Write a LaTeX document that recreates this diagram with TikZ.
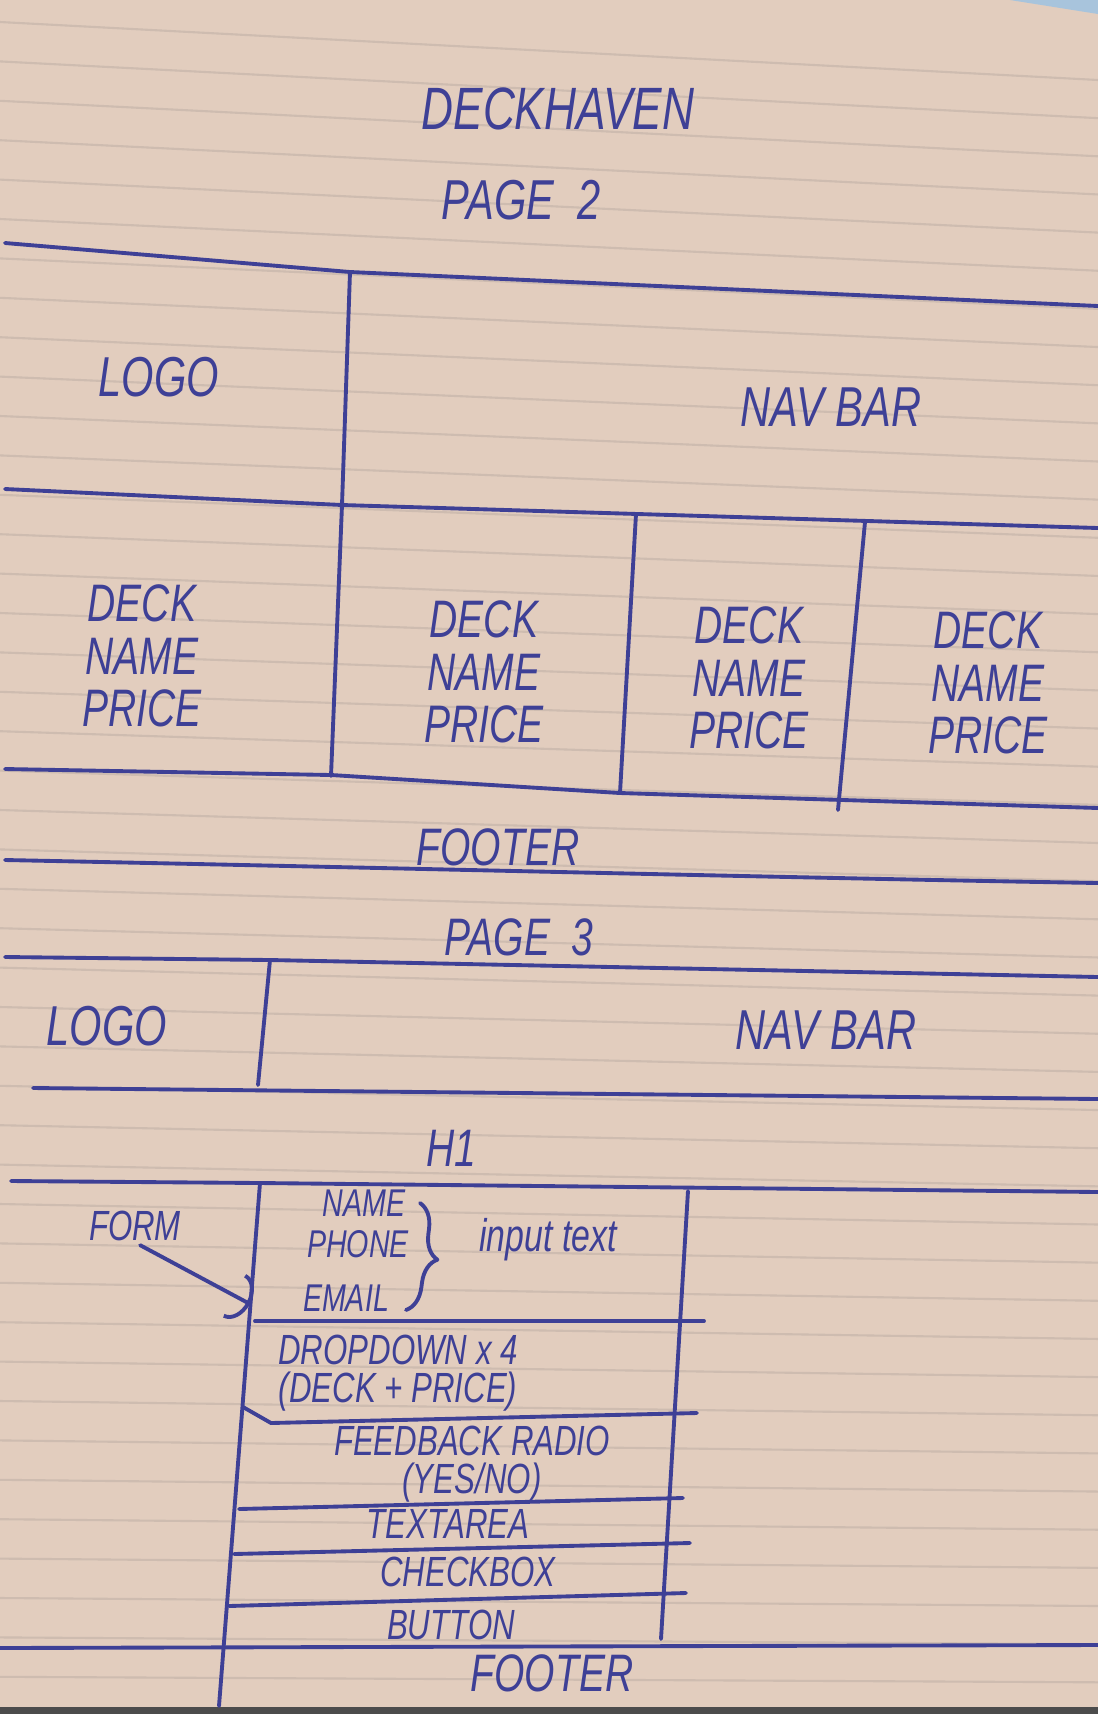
\documentclass[tikz,border=0pt]{standalone}
\usepackage{fontspec}
\newfontfamily\handfont{Liberation Sans}[FakeStretch=0.74]
\usetikzlibrary{arrows.meta,decorations.pathreplacing}
\definecolor{paper}{RGB}{226,205,190}
\definecolor{ruled}{RGB}{206,188,176}
\definecolor{ink}{RGB}{62,64,150}
\definecolor{sky}{RGB}{168,196,220}

\begin{document}
\begin{tikzpicture}[x=0.01cm,y=-0.01cm,
  pen/.style={draw=ink,line width=1.1pt,line cap=round,line join=round},
  hand/.style={text=ink,align=center,inner sep=1pt,font=\handfont\itshape\fontsize{15}{15}\selectfont},
  formtext/.style={hand,font=\handfont\itshape\fontsize{12}{11}\selectfont}]
  \useasboundingbox (0,0) rectangle (1098,1714);
  % paper
  \fill[paper] (0,0) rectangle (1098,1714);
  \fill[sky] (1010,0) -- (1098,0) -- (1098,14) -- cycle;
  \fill[black!70] (0,1707) rectangle (1098,1714);
  \foreach \i in {0,...,43}
    \draw[ruled,line width=0.6pt] (0,{22+39.4*\i}) -- (1098,{22+39.4*\i+58-1.25*\i});

  % page 2
  \node[hand,font=\handfont\itshape\fontsize{17}{17}\selectfont] (title) at (558,109) {DECKHAVEN};
  \node[hand,font=\handfont\itshape\fontsize{16}{16}\selectfont] (pagetwo) at (521,200) {PAGE\ \ 2};
  \coordinate (hA) at (350,272);
  \coordinate (hB) at (342,505);
  \draw[pen] (5,243) -- (hA) -- (1098,306);
  \draw[pen] (hA) -- (hB);
  \draw[pen] (5,489) -- (hB) -- (1098,528);
  \node[hand,font=\handfont\itshape\fontsize{16}{16}\selectfont] (logoA) at (159,377) {LOGO};
  \node[hand,font=\handfont\itshape\fontsize{16}{16}\selectfont] (navA) at (831,407) {NAV BAR};
  \draw[pen] (hB) -- (331,776);
  \draw[pen] (636,514) -- (620,793);
  \draw[pen] (865,522) -- (838,810);
  \draw[pen] (5,769) -- (331,775) -- (620,793) -- (1098,808);
  \foreach \x/\y/\n in {142/656/A,484/672/B,749/678/C,988/683/D}
    \node[hand] (deck\n) at (\x,\y) {DECK\\NAME\\PRICE};
  \node[hand] (footA) at (498,847) {FOOTER};
  \draw[pen] (5,860) .. controls (400,868) and (800,878) .. (1098,883);

  % page 3
  \node[hand,font=\handfont\itshape\fontsize{15}{15}\selectfont] (pagethree) at (519,937) {PAGE\ \ 3};
  \coordinate (pA) at (270,960);
  \draw[pen] (5,957) -- (pA) -- (1098,977);
  \draw[pen] (pA) -- (258,1085);
  \draw[pen] (33,1088) -- (1098,1099);
  \node[hand,font=\handfont\itshape\fontsize{16}{16}\selectfont] (logoB) at (107,1026) {LOGO};
  \node[hand,font=\handfont\itshape\fontsize{16}{16}\selectfont] (navB) at (826,1030) {NAV BAR};
  \node[hand] (heading) at (451,1148) {H1};

  % form
  \coordinate (fA) at (260,1183);
  \coordinate (fB) at (688,1191);
  \draw[pen] (11,1181) -- (fA) -- (1098,1192);
  \draw[pen] (fA) -- (219,1706);
  \draw[pen] (fB) -- (661,1639);
  \draw[pen] (255,1321) -- (704,1321);
  \draw[pen] (243,1407) -- (271,1423) -- (697,1413);
  \draw[pen] (239,1509) -- (683,1498);
  \draw[pen] (234,1554) -- (690,1543);
  \draw[pen] (229,1606) -- (686,1593);
  \draw[pen] (0,1648) -- (719,1646) -- (1098,1645);

  \node[formtext,font=\handfont\itshape\fontsize{11}{11}\selectfont] (fname) at (364,1203) {NAME};
  \node[formtext,font=\handfont\itshape\fontsize{11}{11}\selectfont] (fphone) at (358,1244) {PHONE};
  \node[formtext,font=\handfont\itshape\fontsize{11}{11}\selectfont] (femail) at (346,1298) {EMAIL};
  \draw[pen,decorate,decoration={brace,amplitude=7pt}] (420,1203) -- (406,1310);
  \node[formtext,font=\handfont\itshape\fontsize{13}{14}\selectfont] (inputlbl) at (548,1240) {input text};
  \node[formtext] (dropdown) at (398,1373) {DROPDOWN x 4\\(DECK + PRICE)};
  \node[formtext] (feedback) at (472,1464) {FEEDBACK RADIO\\(YES/NO)};
  \node[formtext] (textarea) at (448,1524) {TEXTAREA};
  \node[formtext] (checkbox) at (468,1572) {CHECKBOX};
  \node[formtext] (button) at (451,1625) {BUTTON};
  \node[hand] (footB) at (552,1673) {FOOTER};

  \node[formtext] (formlbl) at (135,1226) {FORM};
  \coordinate (formpt) at (250,1304);
  \draw[pen,-{Arc Barb[length=5pt,width=14pt]}] (formlbl.-75) -- (formpt);
\end{tikzpicture}
\end{document}
